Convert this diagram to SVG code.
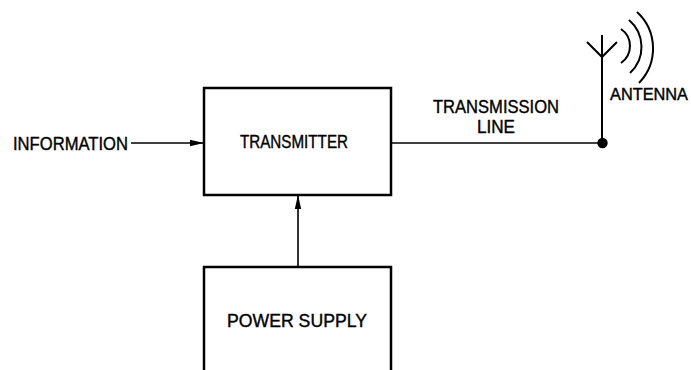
<svg xmlns="http://www.w3.org/2000/svg" width="691" height="370" viewBox="0 0 691 370">
<defs>
<style>
.box{fill:none;stroke:#000;stroke-width:2.5}
.ln{fill:none;stroke:#000;stroke-width:1.6}
.ant{fill:none;stroke:#000;stroke-width:2}
.t{font-family:"Liberation Sans",Arial,sans-serif;font-size:18.5px;fill:#000;stroke:#000;stroke-width:0.4}
</style>
<marker id="ah" markerWidth="14" markerHeight="8" refX="14" refY="4" orient="auto" markerUnits="userSpaceOnUse">
<path d="M0,0.8 L14,4 L0,7.2 Z" fill="#000"/>
</marker>
</defs>
<rect width="691" height="370" fill="#fff"/>
<g id="information">
<text class="t" x="13" y="150" textLength="115" lengthAdjust="spacingAndGlyphs">INFORMATION</text>
</g>
<g id="transmitter">
<rect class="box" x="204" y="88" width="187" height="107"/>
<text class="t" x="240" y="148" textLength="108" lengthAdjust="spacingAndGlyphs">TRANSMITTER</text>
</g>
<g id="power-supply">
<path class="box" d="M204,380 V267 H391 V380"/>
<text class="t" x="227" y="327" textLength="140" lengthAdjust="spacingAndGlyphs">POWER SUPPLY</text>
</g>
<g id="antenna">
<path class="ant" d="M602,143 V35 M587,42 L602,57 L617,42"/>
<path class="ant" d="M621,29 A20.6,20.6 0 0 1 621,63"/>
<path class="ant" d="M629,20 A35.3,35.3 0 0 1 630,73"/>
<path class="ant" d="M637,12 A49.5,49.5 0 0 1 639,83"/>
<circle cx="602.5" cy="143" r="5.2" fill="#000"/>
<text class="t" x="610" y="100" style="font-size:17px" textLength="78" lengthAdjust="spacingAndGlyphs">ANTENNA</text>
</g>
<g id="connectors">
<line class="ln" x1="131" y1="143" x2="204" y2="143" marker-end="url(#ah)"/>
<line class="ln" x1="298" y1="267" x2="298" y2="195" marker-end="url(#ah)"/>
<line class="ln" x1="391" y1="143" x2="602" y2="143"/>
<text class="t" x="433" y="113" textLength="126" lengthAdjust="spacingAndGlyphs">TRANSMISSION</text>
<text class="t" x="477" y="133" textLength="38" lengthAdjust="spacingAndGlyphs">LINE</text>
</g>
</svg>
